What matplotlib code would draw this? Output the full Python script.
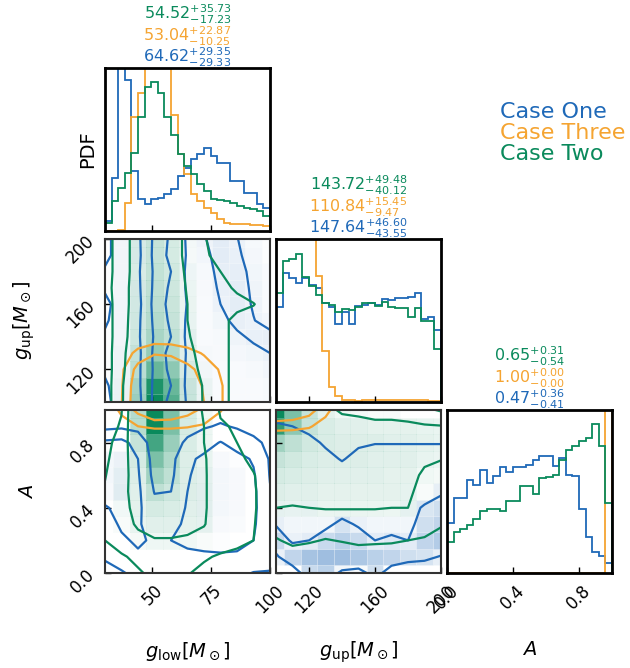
import numpy as np
import matplotlib.pyplot as plt
from matplotlib.colors import LinearSegmentedColormap, to_rgb

# cases in drawing order
case_names = ["Case One", "Case Three", "Case Two"]
case_colors = ["#1f69b8", "#f5a431", "#0a8a5c"]

# parameter ranges / ticks
glow_range = (30, 100)
gup_range = (100, 200)
a_range = (0.0, 1.0)
glow_ticks = [50, 75, 100]
gup_ticks = [120, 160, 200]
a_ticks = [0.0, 0.4, 0.8]
glow_ticklabels = ["50", "75", "100"]
gup_ticklabels = ["120", "160", "200"]
a_ticklabels = ["0.0", "0.4", "0.8"]
n_bins = 25

# 1D histograms, 25 bins each (heights, axis top = 162)
hist_glow_one = [10, 53, 250, 150, 60, 32, 27, 32, 33, 37, 42, 55, 63, 72, 77, 82, 75, 68, 68, 50, 50, 38, 38, 27, 23]
hist_glow_three = [0, 0, 1, 28, 113, 137, 250, 250, 250, 250, 115, 77, 57, 37, 30, 23, 18, 12, 8, 7, 7, 7, 6, 6, 5]
hist_glow_two = [8, 30, 43, 58, 78, 113, 143, 148, 137, 113, 95, 77, 65, 57, 47, 40, 32, 31, 30, 28, 25, 23, 22, 20, 15]

hist_gup_one = [94, 128, 123, 118, 123, 116, 113, 98, 94, 78, 89, 78, 95, 96, 98, 96, 102, 101, 103, 103, 104, 108, 82, 84, 72]
hist_gup_three = [300, 300, 300, 300, 300, 300, 125, 51, 15, 6, 2, 1.5, 1, 1.5, 1.5, 1.5, 1.5, 2, 2, 1.5, 1.5, 1.5, 1.5, 1, 1]
hist_gup_two = [108, 140, 142, 147, 124, 115, 106, 98, 96, 89, 92, 91, 94, 98, 98, 95, 99, 94, 93, 93, 84, 93, 81, 81, 53]

hist_a_one = [50, 75, 75, 92, 87, 102, 89, 96, 105, 100, 105, 105, 107, 112, 116, 116, 106, 114, 97, 96, 64, 36, 21, 17, 10]
hist_a_three = [0] * 24 + [300]
hist_a_two = [31, 41, 44, 48, 54, 62, 64, 64, 62, 72, 72, 86, 86, 79, 94, 95, 97, 112, 122, 126, 131, 134, 148, 126, 70]

# medians and credible intervals (one, three, two)
glow_med = [64.62, 53.04, 54.52]
glow_hi = [29.35, 22.87, 35.73]
glow_lo = [29.33, 10.25, 17.23]
gup_med = [147.64, 110.84, 143.72]
gup_hi = [46.60, 15.45, 49.48]
gup_lo = [43.55, 9.47, 40.12]
a_med = [0.47, 1.00, 0.65]
a_hi = [0.36, 0.00, 0.31]
a_lo = [0.41, 0.00, 0.54]

# 2D density grids (rows listed from top to bottom of the panel)
glow_nodes = [30, 37, 44, 51, 58, 65, 72, 79, 86, 93, 100]
gup_nodes = [100, 110, 120, 130, 140, 150, 160, 170, 180, 190, 200]
a_nodes = [0.0, 0.1, 0.2, 0.3, 0.4, 0.5, 0.6, 0.7, 0.8, 0.9, 1.0]

glow_gup_one = [
    [1.8, 2.35, 2.2, 0.8, 1.05, 2.15, 2.55, 2.9, 2.62, 2.3, 2.1],
    [1.8, 2.35, 2.25, 0.75, 1.1, 2.1, 2.4, 2.9, 2.7, 2.35, 2.1],
    [2.1, 2.35, 2.15, 0.85, 1.0, 2.2, 2.3, 2.8, 2.8, 2.45, 2.2],
    [2.1, 2.35, 2.2, 0.8, 1.05, 2.15, 2.25, 2.7, 2.85, 2.5, 2.2],
    [1.8, 2.35, 2.3, 0.7, 1.15, 2.05, 2.2, 2.6, 2.85, 2.55, 2.2],
    [1.9, 2.35, 2.2, 0.8, 1.05, 2.15, 2.2, 2.45, 2.75, 2.62, 2.4],
    [2.1, 2.35, 2.15, 0.9, 1.0, 2.2, 2.2, 2.3, 2.5, 2.7, 2.75],
    [2.1, 2.35, 2.25, 0.8, 1.1, 2.1, 2.2, 2.25, 2.35, 2.45, 2.6],
    [2.1, 2.35, 2.2, 0.85, 1.05, 2.15, 2.2, 2.2, 2.2, 2.3, 2.4],
    [1.9, 2.35, 2.2, 0.8, 1.0, 2.2, 2.2, 2.2, 2.2, 2.2, 2.3],
    [1.8, 2.35, 2.3, 0.75, 1.1, 2.1, 2.2, 2.2, 2.2, 2.2, 2.3],
]
glow_gup_two = [
    [0.5, 1.6, 2.4, 3.0, 2.6, 1.7, 1.05, 0.7, 0.5, 0.3, 0.2],
    [0.5, 1.6, 2.4, 3.0, 2.6, 1.7, 1.1, 0.8, 0.5, 0.3, 0.2],
    [0.5, 1.6, 2.4, 3.1, 2.7, 1.8, 1.3, 1.0, 0.6, 0.3, 0.2],
    [0.6, 1.6, 2.5, 3.2, 2.8, 1.9, 1.4, 1.2, 0.9, 0.4, 0.2],
    [0.5, 1.6, 2.5, 3.3, 2.9, 2.0, 1.5, 1.3, 1.2, 1.05, 0.4],
    [0.5, 1.6, 2.6, 3.5, 3.0, 2.0, 1.5, 1.2, 0.8, 0.5, 0.3],
    [0.5, 1.6, 2.7, 3.8, 3.2, 2.1, 1.5, 1.2, 0.8, 0.5, 0.3],
    [0.5, 1.7, 2.9, 4.3, 3.6, 2.3, 1.6, 1.2, 0.8, 0.5, 0.3],
    [0.5, 1.7, 3.2, 5.5, 4.5, 2.5, 1.7, 1.2, 0.8, 0.5, 0.3],
    [0.5, 1.8, 3.8, 7.5, 5.5, 2.8, 1.9, 1.2, 0.8, 0.5, 0.3],
    [0.5, 1.8, 4.0, 8.0, 6.0, 2.9, 1.9, 1.2, 0.8, 0.5, 0.3],
]
three_glow_nodes = [30, 37, 44, 51, 58, 65, 72, 79, 86]
three_gup_nodes = [100, 110, 120, 130, 140]
glow_gup_three = [
    [0, 0, 0.2, 0.3, 0.3, 0.2, 0.1, 0, 0],
    [0, 0.4, 1.3, 1.9, 1.8, 1.4, 0.9, 0.5, 0],
    [0, 0.8, 2.4, 3.0, 2.9, 2.3, 1.6, 0.9, 0.2],
    [0, 0.9, 2.8, 3.5, 3.3, 2.6, 1.9, 1.1, 0.3],
    [0, 0.95, 2.9, 3.6, 3.4, 2.7, 2.0, 1.1, 0.3],
]

glow_a_one = [
    [0.3, 0.4, 0.4, 0.2, 0.2, 0.3, 0.5, 0.6, 0.5, 0.4, 0.3],
    [0.7, 0.8, 0.7, 0.3, 0.3, 0.6, 0.9, 1.1, 0.9, 0.7, 0.5],
    [2.2, 2.3, 1.6, 0.5, 0.5, 1.2, 1.6, 2.05, 1.6, 1.2, 0.8],
    [2.6, 2.8, 2.0, 0.6, 0.7, 1.8, 2.2, 2.5, 2.3, 1.9, 0.9],
    [2.6, 2.9, 2.1, 0.7, 0.8, 1.9, 2.4, 2.6, 2.5, 2.1, 0.95],
    [2.5, 2.9, 2.2, 0.95, 1.0, 2.0, 2.5, 2.6, 2.5, 2.2, 1.05],
    [1.9, 2.3, 2.2, 1.3, 1.4, 2.1, 2.5, 2.6, 2.5, 2.2, 1.2],
    [1.7, 2.1, 2.1, 1.6, 1.7, 2.2, 2.4, 2.5, 2.4, 2.1, 1.4],
    [1.5, 1.9, 2.1, 1.9, 2.0, 2.1, 2.2, 2.3, 2.2, 2.0, 1.7],
    [1.1, 1.5, 1.9, 1.85, 1.9, 1.9, 1.9, 1.9, 1.9, 1.8, 1.6],
    [0.7, 0.9, 1.3, 1.5, 1.6, 1.6, 1.6, 1.6, 1.3, 0.95, 0.9],
]
glow_a_two = [
    [0.5, 0.95, 3.5, 8.0, 5.0, 2.6, 1.9, 0.9, 0.5, 0.3, 0.2],
    [0.6, 1.1, 3.4, 8.0, 5.0, 2.6, 2.0, 1.1, 0.9, 0.4, 0.2],
    [0.7, 1.4, 3.0, 6.5, 4.2, 2.5, 2.0, 1.3, 1.0, 0.6, 0.3],
    [0.8, 1.6, 2.6, 5.0, 3.6, 2.4, 2.1, 1.4, 1.2, 0.8, 0.4],
    [0.95, 1.7, 2.4, 4.0, 3.2, 2.4, 2.1, 1.5, 1.3, 1.05, 0.5],
    [1.1, 1.8, 2.3, 3.2, 2.8, 2.4, 2.1, 1.5, 1.3, 1.1, 0.5],
    [1.2, 1.8, 2.2, 2.6, 2.5, 2.3, 2.1, 1.5, 1.3, 1.1, 0.5],
    [1.2, 1.7, 2.1, 2.3, 2.3, 2.2, 2.05, 1.5, 1.3, 1.05, 0.5],
    [1.0, 1.4, 1.8, 1.95, 1.95, 1.9, 1.7, 1.4, 1.2, 1.0, 0.5],
    [0.6, 0.9, 1.2, 1.4, 1.4, 1.3, 1.1, 0.9, 0.8, 0.7, 0.5],
    [0.4, 0.6, 0.9, 1.2, 1.3, 1.05, 0.8, 0.6, 0.5, 0.4, 0.3],
]
three_a_nodes = [0.8, 0.9, 1.0]
glow_a_three = [
    [0.3, 1.2, 2.3, 3.5, 3.3, 2.5, 1.7, 1.05, 0.5],
    [0.1, 0.6, 1.0, 1.1, 1.1, 1.05, 0.9, 0.6, 0.2],
    [0, 0.1, 0.3, 0.4, 0.4, 0.3, 0.2, 0.1, 0],
]

gup_a_one = [
    [0.3, 0.3, 0.3, 0.3, 0.3, 0.3, 0.3, 0.3, 0.3, 0.3, 0.3],
    [1.2, 1.0, 0.8, 0.6, 0.5, 0.6, 0.7, 0.7, 0.7, 0.7, 0.7],
    [1.5, 1.4, 1.2, 0.9, 0.7, 0.9, 0.97, 0.97, 0.97, 0.97, 0.97],
    [1.6, 1.5, 1.4, 1.2, 0.95, 1.2, 1.3, 1.3, 1.3, 1.3, 1.3],
    [1.6, 1.5, 1.5, 1.4, 1.3, 1.4, 1.4, 1.4, 1.4, 1.4, 1.4],
    [1.6, 1.6, 1.6, 1.5, 1.5, 1.5, 1.5, 1.5, 1.5, 1.6, 1.9],
    [1.7, 1.7, 1.7, 1.6, 1.6, 1.6, 1.6, 1.6, 1.7, 2.1, 2.3],
    [1.95, 1.8, 1.8, 1.8, 2.2, 1.9, 1.8, 1.8, 1.8, 2.3, 2.5],
    [2.4, 1.9, 2.0, 2.4, 2.6, 2.4, 2.0, 2.1, 2.0, 2.5, 2.7],
    [1.9, 2.5, 2.9, 3.0, 3.0, 2.8, 2.6, 2.5, 2.3, 2.2, 1.95],
    [1.2, 1.6, 2.4, 2.6, 1.8, 1.7, 2.3, 1.6, 1.4, 1.4, 1.3],
]
gup_a_two = [
    [8.0, 5.0, 3.0, 2.2, 1.9, 1.8, 1.7, 1.7, 1.5, 1.2, 0.9],
    [7.0, 4.5, 3.0, 2.5, 2.3, 2.3, 2.2, 2.2, 2.2, 2.1, 2.05],
    [4.0, 3.2, 2.7, 2.5, 2.4, 2.4, 2.4, 2.3, 2.3, 2.2, 2.1],
    [3.0, 2.7, 2.5, 2.4, 2.4, 2.4, 2.3, 2.3, 2.3, 2.1, 2.02],
    [2.6, 2.5, 2.4, 2.3, 2.3, 2.3, 2.3, 2.2, 2.2, 1.9, 1.8],
    [2.4, 2.3, 2.3, 2.2, 2.2, 2.2, 2.2, 2.2, 2.15, 1.7, 1.6],
    [2.0, 1.95, 2.0, 2.05, 2.05, 2.05, 2.05, 2.0, 2.0, 1.6, 1.5],
    [1.5, 1.4, 1.5, 1.5, 1.5, 1.5, 1.5, 1.5, 1.5, 1.4, 1.05],
    [0.9, 1.25, 1.1, 0.95, 1.05, 1.2, 1.15, 1.1, 1.0, 0.9, 0.8],
    [0.6, 0.5, 0.5, 0.6, 0.5, 0.5, 0.5, 0.55, 0.6, 0.6, 0.5],
    [0.3, 0.3, 0.3, 0.3, 0.3, 0.3, 0.3, 0.3, 0.3, 0.3, 0.3],
]
three_gup_nodes_c = [100, 110, 120, 130, 140]
gup_a_three = [
    [3.5, 3.2, 2.5, 1.3, 0.3],
    [1.3, 1.25, 1.1, 0.6, 0.1],
    [0.2, 0.2, 0.15, 0.1, 0],
]


def alpha_cmap(color, amax):
    r, g, b = to_rgb(color)
    return LinearSegmentedColormap.from_list("shade", [(r, g, b, 0.0), (r, g, b, amax)])


def shade(ax, xn, yn, grid, color, vmin, vmax, amax):
    z = np.array(grid, dtype=float)[::-1]
    ax.pcolormesh(xn, yn, z, cmap=alpha_cmap(color, amax), vmin=vmin, vmax=vmax,
                  shading="nearest", edgecolors=(1, 1, 1, 0.25), linewidth=0.4)


def contours(ax, xn, yn, grid, color, levels):
    z = np.array(grid, dtype=float)[::-1]
    ax.contour(xn, yn, z, levels=levels, colors=[color], linewidths=1.6)


W, H = 630, 668
fig = plt.figure(figsize=(W / 100, H / 100), dpi=100)
lefts = [105, 276, 447]
tops = [68, 239, 410]
aw, ah = 165, 163

ranges = [glow_range, gup_range, a_range]
ticks = [glow_ticks, gup_ticks, a_ticks]
ticklabels = [glow_ticklabels, gup_ticklabels, a_ticklabels]
labels = [r"$g_{\rm low}[M_\odot]$", r"$g_{\rm up}[M_\odot]$", r"$A$"]
hists = [
    [hist_glow_one, hist_glow_three, hist_glow_two],
    [hist_gup_one, hist_gup_three, hist_gup_two],
    [hist_a_one, hist_a_three, hist_a_two],
]
stats = [(glow_med, glow_hi, glow_lo), (gup_med, gup_hi, gup_lo), (a_med, a_hi, a_lo)]

blue, orange, green = case_colors
panels2d = {
    (1, 0): dict(
        blue=(glow_nodes, gup_nodes, glow_gup_one, [1.0, 2.0, 2.6], (2.0, 6.0)),
        orange=(three_glow_nodes, three_gup_nodes, glow_gup_three, [1.0, 2.0]),
        green=(glow_nodes, gup_nodes, glow_gup_two, [1.0, 2.0]),
    ),
    (2, 0): dict(
        blue=(glow_nodes, a_nodes, glow_a_one, [1.0, 2.0], (2.2, 6.5)),
        orange=(three_glow_nodes, three_a_nodes, glow_a_three, [1.0, 2.0]),
        green=(glow_nodes, a_nodes, glow_a_two, [1.0, 2.0]),
    ),
    (2, 1): dict(
        blue=(gup_nodes, a_nodes, gup_a_one, [1.0, 2.0], (1.6, 3.4)),
        orange=(three_gup_nodes_c, three_a_nodes, gup_a_three, [1.0, 2.0]),
        green=(gup_nodes, a_nodes, gup_a_two, [1.0, 2.0]),
    ),
}

for i in range(3):
    for j in range(i + 1):
        ax = fig.add_axes([lefts[j] / W, 1 - (tops[i] + ah) / H, aw / W, ah / H])
        ax.set_xlim(ranges[j])
        ax.set_xticks(ticks[j])
        ax.tick_params(direction="in", length=4, width=1, labelsize=12,
                       top=False, right=False, pad=5)
        if i == j:
            edges = np.linspace(ranges[i][0], ranges[i][1], n_bins + 1)
            for vals, c in zip(hists[i], case_colors):
                ax.stairs(vals, edges, color=c, lw=1.3)
            ax.set_ylim(0, 162)
            ax.set_yticks([])
            for s in ax.spines.values():
                s.set_linewidth(2.0)
                s.set_color("black")
            med, hi, lo = stats[i]
            for k, c in enumerate(case_colors):
                txt = rf"${med[k]:.2f}^{{+{hi[k]:.2f}}}_{{-{lo[k]:.2f}}}$"
                ax.annotate(txt, xy=(0.5, 1.0), xycoords="axes fraction",
                            xytext=(0, -1.0 + 15.6 * k), textcoords="offset points",
                            ha="center", va="bottom", color=c, fontsize=11.5)
            if i == 0:
                ax.set_ylabel("PDF", fontsize=14)
                ax.yaxis.set_label_coords(-0.05, 0.5)
        else:
            ax.set_ylim(ranges[i])
            ax.set_yticks(ticks[i])
            p = panels2d[(i, j)]
            bx, by, bg, blev, (bv0, bv1) = p["blue"]
            gx, gy, gg, glev = p["green"]
            ox, oy, og, olev = p["orange"]
            shade(ax, bx, by, bg, blue, bv0, bv1, 0.55)
            shade(ax, gx, gy, gg, green, 1.5, 8.0, 1.0)
            contours(ax, bx, by, bg, blue, blev)
            contours(ax, ox, oy, og, orange, olev)
            contours(ax, gx, gy, gg, green, glev)
            for s in ax.spines.values():
                s.set_linewidth(1.5)
                s.set_color("#333333")
            if j == 0:
                ax.set_yticklabels(ticklabels[i], rotation=45)
                ax.set_ylabel(labels[i], fontsize=14)
                ax.yaxis.set_label_coords(-0.41, 0.5)
            else:
                ax.set_yticklabels([])
        if i == 2:
            ax.set_xticklabels(ticklabels[j], rotation=45)
            ax.tick_params(axis="x", pad=6)
            ax.set_xlabel(labels[j], fontsize=14)
            ax.xaxis.set_label_coords(0.5, -0.41)
        else:
            ax.set_xticklabels([])

# legend-like labels
for k, (name, c) in enumerate(zip(case_names, case_colors)):
    fig.text(500 / W, 1 - (118 + 21 * k) / H, name, color=c, fontsize=16, va="baseline")

fig.savefig("out.png", dpi=100)
